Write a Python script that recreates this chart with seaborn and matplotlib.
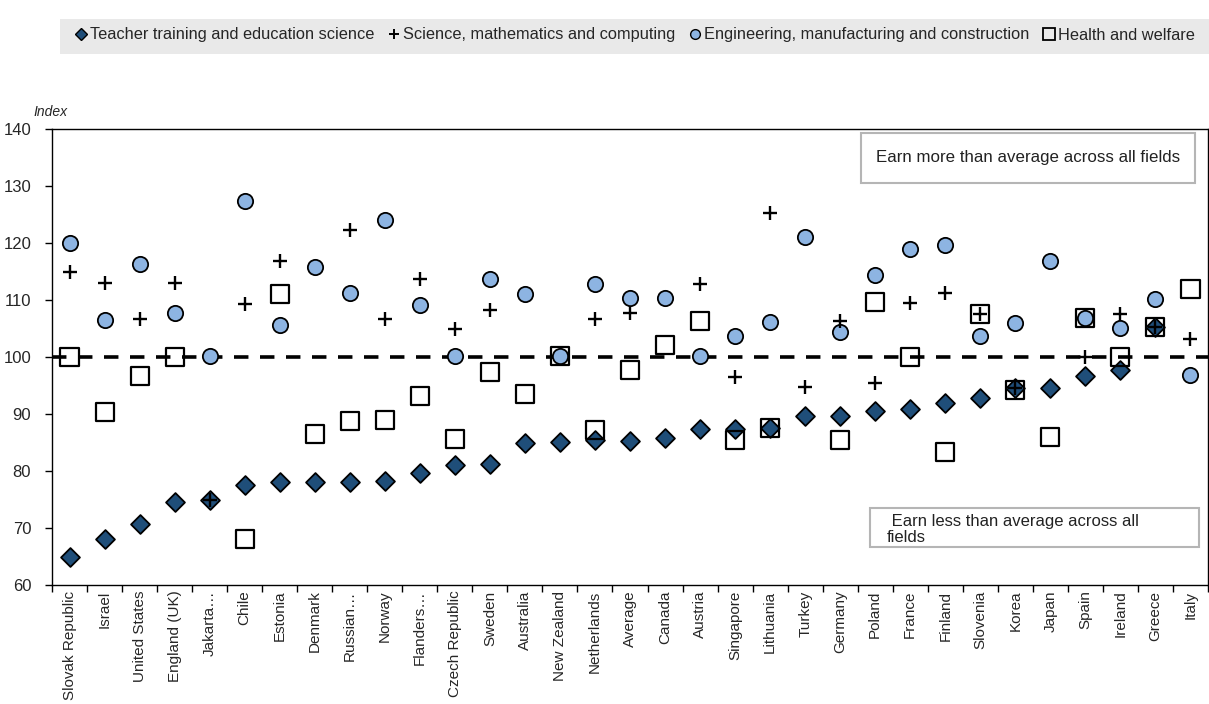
import numpy as np
import pandas as pd
import matplotlib
matplotlib.use("Agg")
import matplotlib.pyplot as plt
from matplotlib.patches import Rectangle
from matplotlib.lines import Line2D
import seaborn as sns

categories = ["Slovak Republic", "Israel", "United States", "England (UK)", "Jakarta…", "Chile",
              "Estonia", "Denmark", "Russian…", "Norway", "Flanders…", "Czech Republic", "Sweden",
              "Australia", "New Zealand", "Netherlands", "Average", "Canada", "Austria", "Singapore",
              "Lithuania", "Turkey", "Germany", "Poland", "France", "Finland", "Slovenia", "Korea",
              "Japan", "Spain", "Ireland", "Greece", "Italy"]

nan = np.nan
teacher = [65.0, 68.0, 70.7, 74.5, 75.0, 77.5, 78.0, 78.0, 78.0, 78.3, 79.7, 81.0, 81.2,
           85.0, 85.1, 85.5, 85.3, 85.8, 87.3, 87.3, 87.6, 89.6, 89.6, 90.5, 90.8, 91.9,
           92.8, 94.5, 94.6, 96.6, 97.8, 105.2, nan]
science = [115.0, 113.0, 106.7, 113.0, 75.0, 109.3, 116.8, nan, 122.3, 106.7, 113.7, 105.0, 108.3,
           nan, nan, 106.6, 107.8, nan, 112.8, 96.5, 125.2, 94.8, 106.3, 95.5, 109.5, 111.3,
           107.5, 94.5, nan, 100.0, 107.5, 105.2, 103.2]
engineering = [120.0, 106.5, 116.4, 107.8, 100.2, 127.4, 105.6, 115.8, 111.2, 124.1, 109.2, 100.1, 113.7,
               111.0, 100.2, 112.8, 110.3, 110.3, 100.1, 103.7, 106.2, 121.1, 104.3, 114.4, 118.9, 119.6,
               103.7, 106.0, 116.8, 106.8, 105.1, 110.1, 96.9]
health = [100.0, 90.3, 96.7, 100.0, nan, 68.0, 111.0, 86.5, 88.8, 89.0, 93.1, 85.6, 97.4,
          93.5, 100.1, 87.2, 97.8, 102.1, 106.3, 85.5, 87.5, nan, 85.4, 109.6, 100.0, 83.3,
          107.6, 94.2, 86.0, 106.8, 100.0, 105.2, 112.0]

series_names = ["Teacher training and education science", "Science, mathematics and computing",
                "Engineering, manufacturing and construction", "Health and welfare"]
yticks = [60, 70, 80, 90, 100, 110, 120, 130, 140]

sns.set_theme(style="white")
plt.rcParams["font.family"] = ["Liberation Sans", "DejaVu Sans"]

df = pd.DataFrame({"country": categories, "teacher": teacher, "science": science,
                   "engineering": engineering, "health": health})

fig = plt.figure(figsize=(12.09, 7.04), dpi=100)
ax = fig.add_axes([52 / 1209, 1 - 585 / 704, 1156 / 1209, 456 / 704])

ax.axhline(100, color="black", lw=2.6, dashes=(4.0, 3.2), zorder=1)

dark_blue = "#1f4e79"
light_blue = "#8db4e2"

sns.stripplot(data=df, x="country", y="teacher", order=categories, jitter=False, ax=ax,
              marker="D", s=9.6, color=dark_blue, edgecolor="black", linewidth=1.3, zorder=3)
sns.stripplot(data=df, x="country", y="engineering", order=categories, jitter=False, ax=ax,
              marker="o", s=11, color=light_blue, edgecolor="black", linewidth=1.3, zorder=3)
sns.stripplot(data=df, x="country", y="science", order=categories, jitter=False, ax=ax,
              marker="+", s=10, color="black", edgecolor="black", linewidth=1.7, zorder=4)
sns.stripplot(data=df, x="country", y="health", order=categories, jitter=False, ax=ax,
              marker="s", s=13, color="none", facecolor="none", edgecolor="black", linewidth=1.6, zorder=5)

ax.set_xlim(-0.5, len(categories) - 0.5)
ax.set_ylim(60, 140)
ax.set_yticks(yticks)
ax.set_yticklabels([str(t) for t in yticks], fontsize=12)
ax.set_xticks(range(len(categories)))
ax.set_xticklabels(categories, rotation=90, fontsize=11)
ax.set_xticks(np.arange(-0.5, len(categories)), minor=True)
ax.tick_params(axis="x", which="major", length=0, pad=4)
ax.tick_params(axis="x", which="minor", length=5, width=1, color="black", direction="out", bottom=True)
ax.tick_params(axis="y", which="major", length=5, width=1, color="black", direction="out", left=True, pad=10)
ax.set_xlabel("")
ax.set_ylabel("")
for sp in ax.spines.values():
    sp.set_visible(True)
    sp.set_color("black")
    sp.set_linewidth(1.0)

# annotation boxes
ax.add_patch(Rectangle((0.700, 0.882), 0.289, 0.109, transform=ax.transAxes, fill=False,
                       edgecolor="#b5b5b5", lw=1.5, zorder=2))
ax.text(0.8445, 0.9365, "Earn more than average across all fields", transform=ax.transAxes,
        ha="center", va="center", fontsize=12.2, color="#222222")
ax.add_patch(Rectangle((0.708, 0.083), 0.284, 0.086, transform=ax.transAxes, fill=False,
                       edgecolor="#b5b5b5", lw=1.5, zorder=2))
ax.text(0.722, 0.122, " Earn less than average across all\nfields", transform=ax.transAxes,
        ha="left", va="center", fontsize=12, color="#222222", linespacing=1.05)

fig.text(33 / 1209, 1 - 112 / 704, "Index", fontsize=10, style="italic", va="center", ha="left")

# legend band
fig.patches.append(Rectangle((60 / 1209, 1 - 54 / 704), 1149 / 1209, 35 / 704,
                             transform=fig.transFigure, facecolor="#e9e9e9", edgecolor="none", zorder=0))
handles = [
    Line2D([], [], ls="none", marker="D", ms=6.5, mfc=dark_blue, mec="black", mew=1.0),
    Line2D([], [], ls="none", marker="+", ms=7, mec="black", mew=1.4),
    Line2D([], [], ls="none", marker="o", ms=7, mfc=light_blue, mec="black", mew=1.0),
    Line2D([], [], ls="none", marker="s", ms=8, mfc="none", mec="black", mew=1.3),
]
fig.legend(handles, series_names, loc="center", bbox_to_anchor=(635 / 1209, 1 - 35 / 704),
           ncol=4, frameon=False, fontsize=11.8, handlelength=0.8, handletextpad=0.15,
           columnspacing=0.8, borderaxespad=0)

fig.savefig("out.png", dpi=100)
